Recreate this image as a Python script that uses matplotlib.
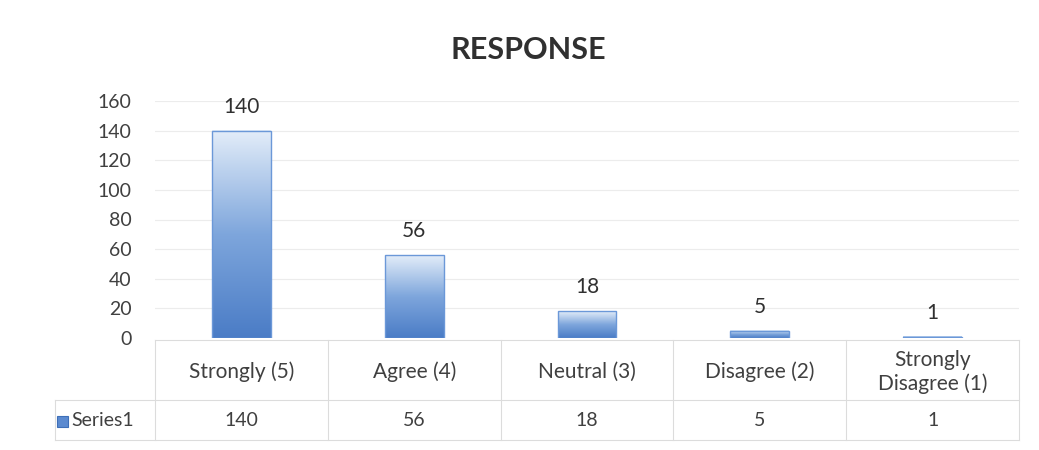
import numpy as np
import matplotlib.pyplot as plt
from matplotlib.colors import LinearSegmentedColormap
from matplotlib.patches import Rectangle

categories = ["Strongly (5)", "Agree (4)", "Neutral (3)", "Disagree (2)", "Strongly\nDisagree (1)"]
values = [140, 56, 18, 5, 1]
series_name = "Series1"
yticks = [0, 20, 40, 60, 80, 100, 120, 140, 160]

plt.rcParams['font.family'] = ['Lato', 'DejaVu Sans']
txt = '#404040'
grid = '#ececec'

fig = plt.figure(figsize=(10.39, 4.5), dpi=100)
x0, x1 = 155 / 1039, 1019 / 1039
y0, y1 = 1 - 338 / 450, 1 - 101 / 450
ax = fig.add_axes([x0, y0, x1 - x0, y1 - y0])

n = len(values)
xs = np.arange(n)

cmap = LinearSegmentedColormap.from_list('bar', ['#4a7cc6', '#7ea6dc', '#e3edf9'])
grad = np.linspace(0, 1, 256).reshape(-1, 1)
bw = 0.34
for x, v in zip(xs, values):
    ax.imshow(grad, extent=(x - bw / 2, x + bw / 2, 0, v), origin='lower',
              cmap=cmap, aspect='auto', zorder=2)
    ax.add_patch(Rectangle((x - bw / 2, 0), bw, v, fill=False,
                           edgecolor='#6b98d8', linewidth=1, zorder=3))
    ax.annotate(str(v), (x, v), xytext=(0, 10), textcoords='offset points',
                ha='center', va='bottom', fontsize=15, color='#303030')
ax.set_xlim(-0.5, n - 0.5)
ax.set_ylim(0, 160)

ax.set_yticks(yticks)
ax.set_yticklabels([str(t) for t in yticks], fontsize=14, color=txt)
ax.set_xticks([])
ax.tick_params(axis='y', length=0, pad=17)
for t in yticks[1:]:
    ax.axhline(t, color=grid, linewidth=0.8, zorder=1)
for s in ax.spines.values():
    s.set_visible(False)

# data table below the plot
def fx(px):
    return px / 1039

def fy(py):
    return 1 - py / 450

cols = np.linspace(155, 1019, n + 1)
lc = '#dcdcdc'
fig.add_artist(plt.Line2D([fx(155), fx(1019)], [fy(340), fy(340)], color=lc, lw=0.8))
fig.add_artist(plt.Line2D([fx(55), fx(1019)], [fy(400), fy(400)], color=lc, lw=0.8))
fig.add_artist(plt.Line2D([fx(55), fx(1019)], [fy(440), fy(440)], color=lc, lw=0.8))
fig.add_artist(plt.Line2D([fx(55), fx(55)], [fy(400), fy(440)], color=lc, lw=0.8))
for c in cols:
    fig.add_artist(plt.Line2D([fx(c), fx(c)], [fy(340), fy(440)], color=lc, lw=0.8))

for i in range(n):
    cx = fx((cols[i] + cols[i + 1]) / 2)
    fig.text(cx, fy(372), categories[i], ha='center', va='center', fontsize=15,
             color=txt, linespacing=1.25)
    fig.text(cx, fy(421), str(values[i]), ha='center', va='center', fontsize=14, color=txt)

fig.add_artist(Rectangle((fx(57), fy(427)), fx(11), 11 / 450, transform=fig.transFigure,
                         facecolor='#5b8ad0', edgecolor='#3e6fb8', lw=0.8))
fig.text(fx(71), fy(421), series_name, ha='left', va='center', fontsize=14, color=txt)

fig.text(fx(528), fy(50), "RESPONSE", ha='center', va='center', fontsize=22,
         fontweight='bold', color='#303030')

fig.savefig('out.png', dpi=100, facecolor='white')
